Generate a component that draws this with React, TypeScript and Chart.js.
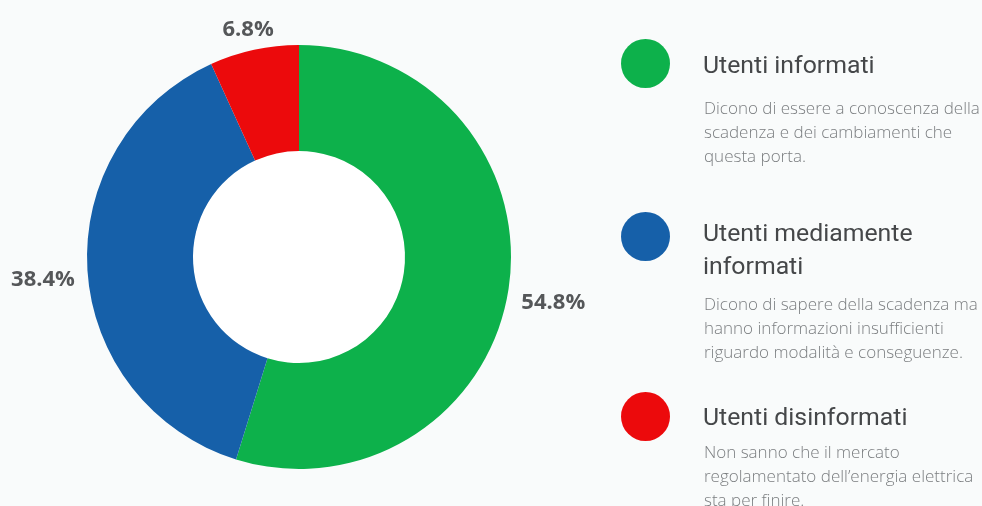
import React, { useEffect, useRef } from "react";
import { Chart, registerables } from "chart.js";

Chart.register(...registerables);

const categories = ["Utenti informati", "Utenti mediamente informati", "Utenti disinformati"];
const titleLines = [["Utenti informati"], ["Utenti mediamente", "informati"], ["Utenti disinformati"]];
const descriptions = [
  ["Dicono di essere a conoscenza della", "scadenza e dei cambiamenti che", "questa porta."],
  ["Dicono di sapere della scadenza ma", "hanno informazioni insufficienti", "riguardo modalità e conseguenze."],
  ["Non sanno che il mercato", "regolamentato dell’energia elettrica", "sta per finire."],
];
const values = [54.8, 38.4, 6.8];
const valueLabels = ["54.8%", "38.4%", "6.8%"];
const colors = ["#0db14b", "#1660a9", "#ec0a0c"];

// legend layout (pixel positions of each legend block)
const circleTops = [39, 212, 392];
const titleTops = [48, 216, 400];
const descTops = [96, 292, 440];

const labelPlugin = {
  id: "outerLabels",
  afterDatasetsDraw(chart: any) {
    const ctx = chart.ctx;
    const meta = chart.getDatasetMeta(0);
    ctx.save();
    ctx.font = "bold 22px 'Open Sans', 'DejaVu Sans', sans-serif";
    ctx.fillStyle = "#555759";
    ctx.textAlign = "center";
    ctx.textBaseline = "middle";
    meta.data.forEach((arc: any, i: number) => {
      const { x, y, startAngle, endAngle, outerRadius } = arc.getProps(
        ["x", "y", "startAngle", "endAngle", "outerRadius"],
        true
      );
      const mid = (startAngle + endAngle) / 2;
      const c = Math.cos(mid);
      const s = Math.sin(mid);
      const text = valueLabels[i];
      const w = ctx.measureText(text).width;
      const h = 22;
      const ext = (Math.abs(c) * w) / 2 + (Math.abs(s) * h) / 2;
      const d = outerRadius + 12 + ext;
      ctx.fillText(text, x + c * d, y + s * d + 7);
    });
    ctx.restore();
  },
};

const innerWhite = {
  id: "innerWhite",
  beforeDatasetsDraw(chart: any) {
    const arc = chart.getDatasetMeta(0).data[0];
    if (!arc) return;
    const ctx = chart.ctx;
    ctx.save();
    ctx.fillStyle = "#ffffff";
    ctx.beginPath();
    ctx.arc(arc.x, arc.y, arc.innerRadius, 0, Math.PI * 2);
    ctx.fill();
    ctx.restore();
  },
};

export default function App() {
  const ref = useRef<HTMLCanvasElement>(null);
  useEffect(() => {
    document.body.style.margin = "0";
    document.body.style.background = "#f9fbfb";
    const chart = new Chart(ref.current!, {
      type: "doughnut",
      data: {
        labels: categories,
        datasets: [
          {
            data: values,
            backgroundColor: colors,
            borderWidth: 0,
          },
        ],
      },
      options: {
        animation: false,
        responsive: false,
        cutout: "50%",
        layout: { padding: { left: 87, right: 471, top: 45, bottom: 37 } },
        plugins: {
          legend: { display: false },
          tooltip: { enabled: false },
        },
      },
      plugins: [labelPlugin, innerWhite],
    });
    return () => chart.destroy();
  }, []);

  return (
    <div style={{ position: "relative", width: 982, height: 506, background: "#f9fbfb", overflow: "hidden" }}>
      <canvas ref={ref} width={982} height={506} style={{ position: "absolute", left: 0, top: 0 }} />
      {categories.map((cat, i) => (
        <React.Fragment key={cat}>
          <div
            style={{
              position: "absolute",
              left: 621,
              top: circleTops[i],
              width: 49,
              height: 49,
              borderRadius: "50%",
              background: colors[i],
            }}
          />
          <div
            style={{
              position: "absolute",
              left: 703,
              top: titleTops[i],
              fontFamily: "Roboto, 'Noto Sans', sans-serif",
              fontSize: 24.8,
              lineHeight: "33px",
              color: "#454749",
              whiteSpace: "nowrap",
            }}
          >
            {titleLines[i].map((l) => (
              <div key={l}>{l}</div>
            ))}
          </div>
          <div
            style={{
              position: "absolute",
              left: 704,
              top: descTops[i],
              fontFamily: "'Open Sans', sans-serif",
              fontWeight: 300,
              fontSize: 17,
              lineHeight: "24px",
              color: "#7b7e80",
              whiteSpace: "nowrap",
            }}
          >
            {descriptions[i].map((l) => (
              <div key={l}>{l}</div>
            ))}
          </div>
        </React.Fragment>
      ))}
    </div>
  );
}
